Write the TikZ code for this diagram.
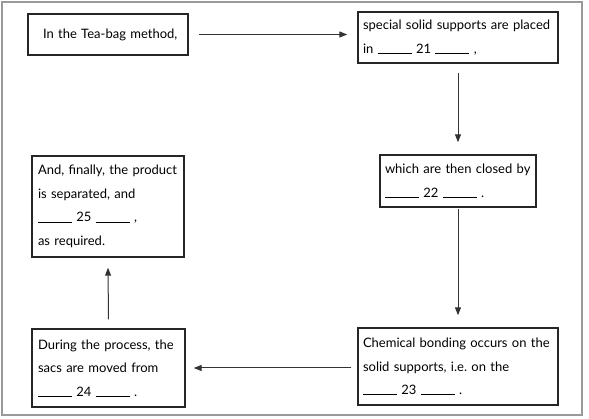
\documentclass[tikz,border=0pt]{standalone}
\usepackage{fontspec}
\setmainfont{Lato}
\usetikzlibrary{arrows.meta}
\frenchspacing
\newcommand{\blankno}[1]{\rule[-0.5pt]{34pt}{0.7pt}\ #1\ \rule[-0.5pt]{34pt}{0.7pt}}
\begin{document}
\begin{tikzpicture}[x=1pt,y=-1pt,
  box/.style={draw=black!85,line width=1.4pt,inner xsep=0pt,inner ysep=0pt,align=left,
    font=\fontsize{13}{23.5}\selectfont,text=black},
  flow/.style={draw=black!80,line width=1pt,-{Triangle[length=8pt,width=6pt]}}]
\useasboundingbox (0,0) rectangle (589,419);
\draw[black!40,line width=1.5pt] (2,2) rectangle (582,415);
\node[box,minimum width=160,minimum height=41,text width=154] (b1) at (108,34.5) {\hspace*{12pt}In the Tea-bag method,};
\node[box,minimum width=200,minimum height=51,text width=190] (b2) at (458,37.5) {special solid supports are placed\\in \blankno{21} ,};
\node[box,minimum width=156,minimum height=52,text width=146] (b3) at (458,181) {which are then closed by\\\blankno{22} .};
\node[box,minimum width=200,minimum height=77,text width=190] (b4) at (458,366.5) {Chemical bonding occurs on the\\solid supports, i.e. on the\\\blankno{23} .};
\node[box,minimum width=153,minimum height=78,text width=141] (b5) at (108.5,368) {During the process, the\\sacs are moved from\\\blankno{24} .};
\node[box,minimum width=152,minimum height=101,text width=140] (b6) at (108,206.5) {And, finally, the product\\is separated, and\\\blankno{25} ,\\as required.};
\draw[flow] ([xshift=10pt]b1.east) -- ([xshift=-10pt]b2.west |- b1.east);
\draw[flow] ([yshift=-9pt]b2.south) -- ([yshift=12pt]b3.north);
\draw[flow] ([yshift=-1pt]b3.south) -- ([yshift=12pt]b4.north);
\draw[flow] ([xshift=-6pt]b4.west |- b5.east) -- ([xshift=8pt]b5.east);
\draw[flow] ([yshift=9pt]b5.north) -- ([yshift=-10pt]b6.south);
\end{tikzpicture}
\end{document}
